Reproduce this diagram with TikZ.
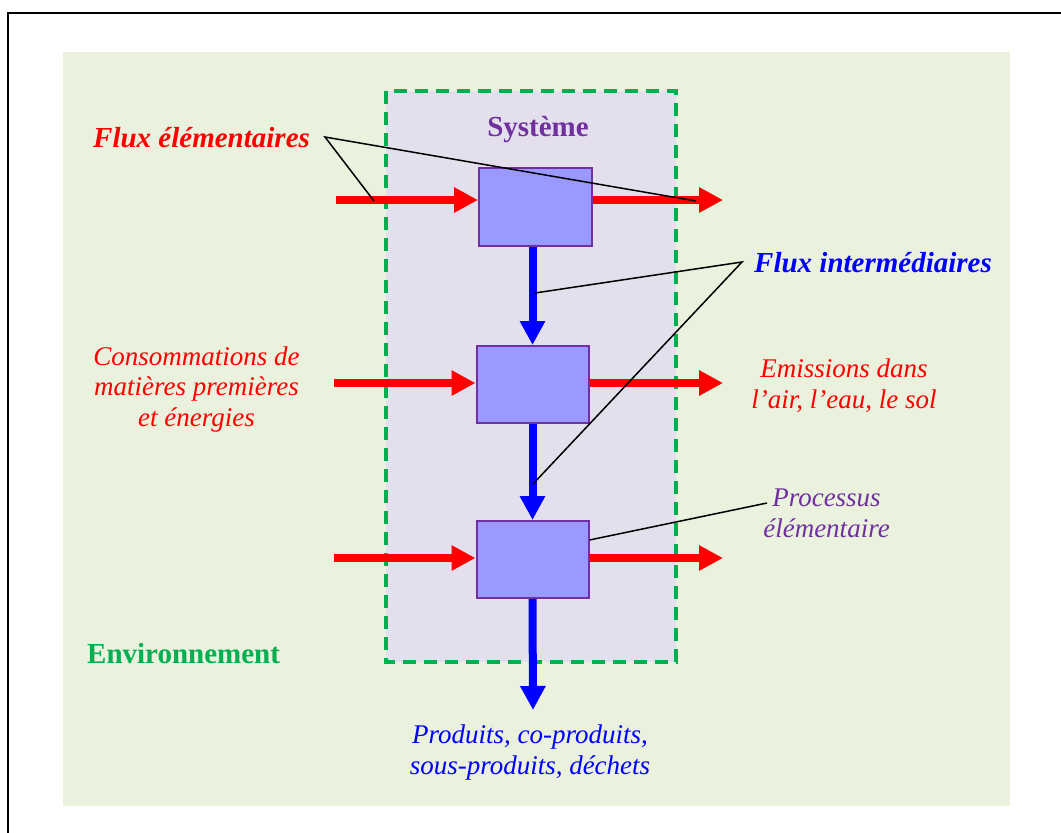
\documentclass[tikz,border=0pt]{standalone}
\usepackage{fontspec}
\setmainfont{Liberation Serif}
\usetikzlibrary{arrows.meta}

\definecolor{envbg}{HTML}{EAF1DD}
\definecolor{sysbg}{HTML}{E4DFEC}
\definecolor{boxfill}{HTML}{9999FF}
\definecolor{boxline}{HTML}{7030A0}
\definecolor{envgreen}{HTML}{00B050}

\tikzset{
  procbox/.style={draw=boxline, fill=boxfill, line width=2pt, minimum width=112pt, minimum height=77pt, inner sep=0pt},
  redflow/.style={draw=red, line width=8pt, -{Triangle[length=24pt,width=24pt]}},
  blueflow/.style={draw=blue, line width=8pt, -{Triangle[length=24pt,width=24pt]}},
  callout/.style={draw=black, line width=1.5pt},
  boldlabel/.style={font=\fontsize{29}{33}\selectfont\bfseries, inner sep=0pt, anchor=base},
  itlabel/.style={font=\fontsize{27}{30.5}\selectfont\itshape, inner sep=0pt, anchor=base, align=center},
}

\begin{document}
\begin{tikzpicture}[x=1pt,y=-1pt]
\useasboundingbox (0,0) rectangle (1061,833);

% outer frame
\begin{scope}
  \clip (0,0) rectangle (1061,833);
  \draw[line width=2pt] (8,13) rectangle (1080,850);
\end{scope}

% environment and system areas
\fill[envbg] (63,52) rectangle (1010,806);
\draw[fill=sysbg, draw=envgreen, line width=3.5pt, dash pattern=on 13pt off 8pt] (386,91) rectangle (676,662);

% processes
\node[procbox, minimum width=113pt, minimum height=78pt] (b1) at (535.5,207) {};
\node[procbox] (b2) at (532.5,384.5) {};
\node[procbox] (b3) at (532.5,559.5) {};

% elementary flows (red)
\coordinate (in1) at (336,200);
\coordinate (in2) at (334,383);
\coordinate (in3) at (334,558);
\coordinate (out1) at (723,200);
\coordinate (out2) at (723,383);
\coordinate (out3) at (723,558);
\draw[redflow] (in1) -- (in1 -| b1.west);
\draw[redflow] (in2) -- (in2 -| b2.west);
\draw[redflow] (in3) -- (in3 -| b3.west);
\draw[redflow] (out1 -| b1.east) -- (out1);
\draw[redflow] (out2 -| b2.east) -- (out2);
\draw[redflow] (out3 -| b3.east) -- (out3);

% intermediate flows (blue)
\coordinate (prod) at (533,710);
\draw[blueflow] (b2.north |- b1.south) -- (b2.north);
\draw[blueflow] (b2.south) -- (b3.north);
\draw[blueflow] (b3.south) -- (prod);

% labels (multi-line labels are placed by the baseline of their last line)
\node[boldlabel, text=boxline] (sys) at (538,136) {Système};
\node[boldlabel, text=envgreen, anchor=base west] (env) at (87,663) {Environnement};
\node[boldlabel, text=red, anchor=base west, font=\fontsize{29}{33}\selectfont\bfseries\itshape] (fe) at (93,147) {Flux élémentaires};
\node[boldlabel, text=blue, anchor=base west, font=\fontsize{29}{33}\selectfont\bfseries\itshape] (fi) at (754,272) {Flux intermédiaires};
\node[itlabel, text=red] (cons) at (196.5,426) {Consommations de\\matières premières\\et énergies};
\node[itlabel, text=red] (emis) at (844,408) {Emissions dans\\l’air, l’eau, le sol};
\node[itlabel, text=boxline] (proc) at (826.5,537) {Processus\\élémentaire};
\node[itlabel, text=blue] (prodtxt) at (530,774) {Produits, co-produits,\\sous-produits, déchets};

% callout lines
\coordinate (feA) at (325,137);
\coordinate (feL) at (374,201);
\coordinate (feR) at (696,201);
\draw[callout] (feL) -- (feA) -- (feR);
\coordinate (fiA) at (742,262);
\coordinate (fiU) at (535,293);
\coordinate (fiD) at (533,484);
\draw[callout] (fiU) -- (fiA) -- (fiD);
\coordinate (prA) at (767,503);
\draw[callout] (b3.east |- 0,540) -- (prA);
\end{tikzpicture}
\end{document}
